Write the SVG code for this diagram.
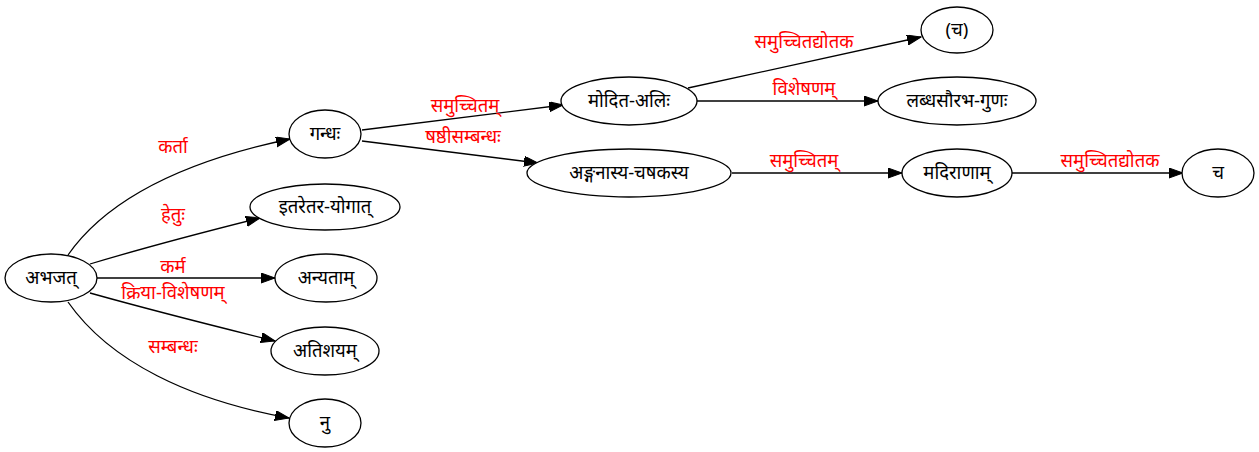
<svg xmlns="http://www.w3.org/2000/svg" width="1259" height="452" viewBox="0 0 1259 452">
<style>
.n ellipse{fill:#fff;stroke:#000;stroke-width:1.3}
text{font-family:"Noto Sans","Noto Sans Devanagari","Liberation Sans",sans-serif;font-size:18.5px;text-anchor:middle}
.n text{fill:#000}
.e path{fill:none;stroke:#000;stroke-width:1.3;marker-end:url(#ah)}
.e text{fill:#ff0000}
</style>
<defs>
<marker id="ah" markerUnits="userSpaceOnUse" markerWidth="15" markerHeight="11" refX="14" refY="5" orient="auto">
<path d="M0,0 L14,5 L0,10 z" fill="#000" stroke="#000" stroke-width="1"/>
</marker>
</defs>
<rect width="1259" height="452" fill="#fff"/>
<g class="e" id="edges">
<path d="M68,255 C110,195 190,160 290,139"/>
<text x="173" y="153">कर्ता</text>
<path d="M90,264 C140,249 200,233 260,218"/>
<text x="173" y="221">हेतुः</text>
<path d="M97,278 L275,278"/>
<text x="173" y="273">कर्म</text>
<path d="M90,293 C140,307 210,325 275,341"/>
<text x="173" y="299">क्रिया-विशेषणम्</text>
<path d="M68,302 C110,362 190,400 289,418"/>
<text x="173" y="353">सम्बन्धः</text>
<path d="M362,130 L563,105"/>
<text x="465" y="112">समुच्चितम्</text>
<path d="M362,141 L538,163"/>
<text x="463" y="143">षष्ठीसम्बन्धः</text>
<path d="M688,88 L921,37"/>
<text x="804" y="48">समुच्चितद्योतक</text>
<path d="M697,101 L878,101"/>
<text x="804" y="95">विशेषणम्</text>
<path d="M732,173 L902,173"/>
<text x="804" y="167">समुच्चितम्</text>
<path d="M1012,173 L1183,173"/>
<text x="1110" y="167">समुच्चितद्योतक</text>
</g>
<g class="n" id="n_abhajat"><ellipse cx="51" cy="278" rx="46" ry="24"/><text x="51" y="284">अभजत्</text></g>
<g class="n" id="n_gandha"><ellipse cx="325" cy="134" rx="36" ry="24"/><text x="325" y="140">गन्धः</text></g>
<g class="n" id="n_itaretara"><ellipse cx="325" cy="207" rx="75" ry="23"/><text x="325" y="213">इतरेतर-योगात्</text></g>
<g class="n" id="n_anyatam"><ellipse cx="326" cy="278" rx="51" ry="24"/><text x="326" y="284">अन्यताम्</text></g>
<g class="n" id="n_atishayam"><ellipse cx="325" cy="351" rx="54" ry="24"/><text x="325" y="357">अतिशयम्</text></g>
<g class="n" id="n_nu"><ellipse cx="325" cy="423" rx="36" ry="24"/><text x="325" y="429">नु</text></g>
<g class="n" id="n_modita"><ellipse cx="629" cy="101" rx="68" ry="24"/><text x="629" y="107">मोदित-अलिः</text></g>
<g class="n" id="n_anganasya"><ellipse cx="629" cy="173" rx="102" ry="24"/><text x="629" y="179">अङ्गनास्य-चषकस्य</text></g>
<g class="n" id="n_ca1"><ellipse cx="957" cy="30" rx="36" ry="23"/><text x="957" y="36">(च)</text></g>
<g class="n" id="n_labdha"><ellipse cx="957" cy="101" rx="79" ry="24"/><text x="957" y="107">लब्धसौरभ-गुणः</text></g>
<g class="n" id="n_madiranam"><ellipse cx="957" cy="173" rx="55" ry="24"/><text x="957" y="179">मदिराणाम्</text></g>
<g class="n" id="n_ca2"><ellipse cx="1218" cy="173" rx="36" ry="24"/><text x="1218" y="179">च</text></g>
</svg>
